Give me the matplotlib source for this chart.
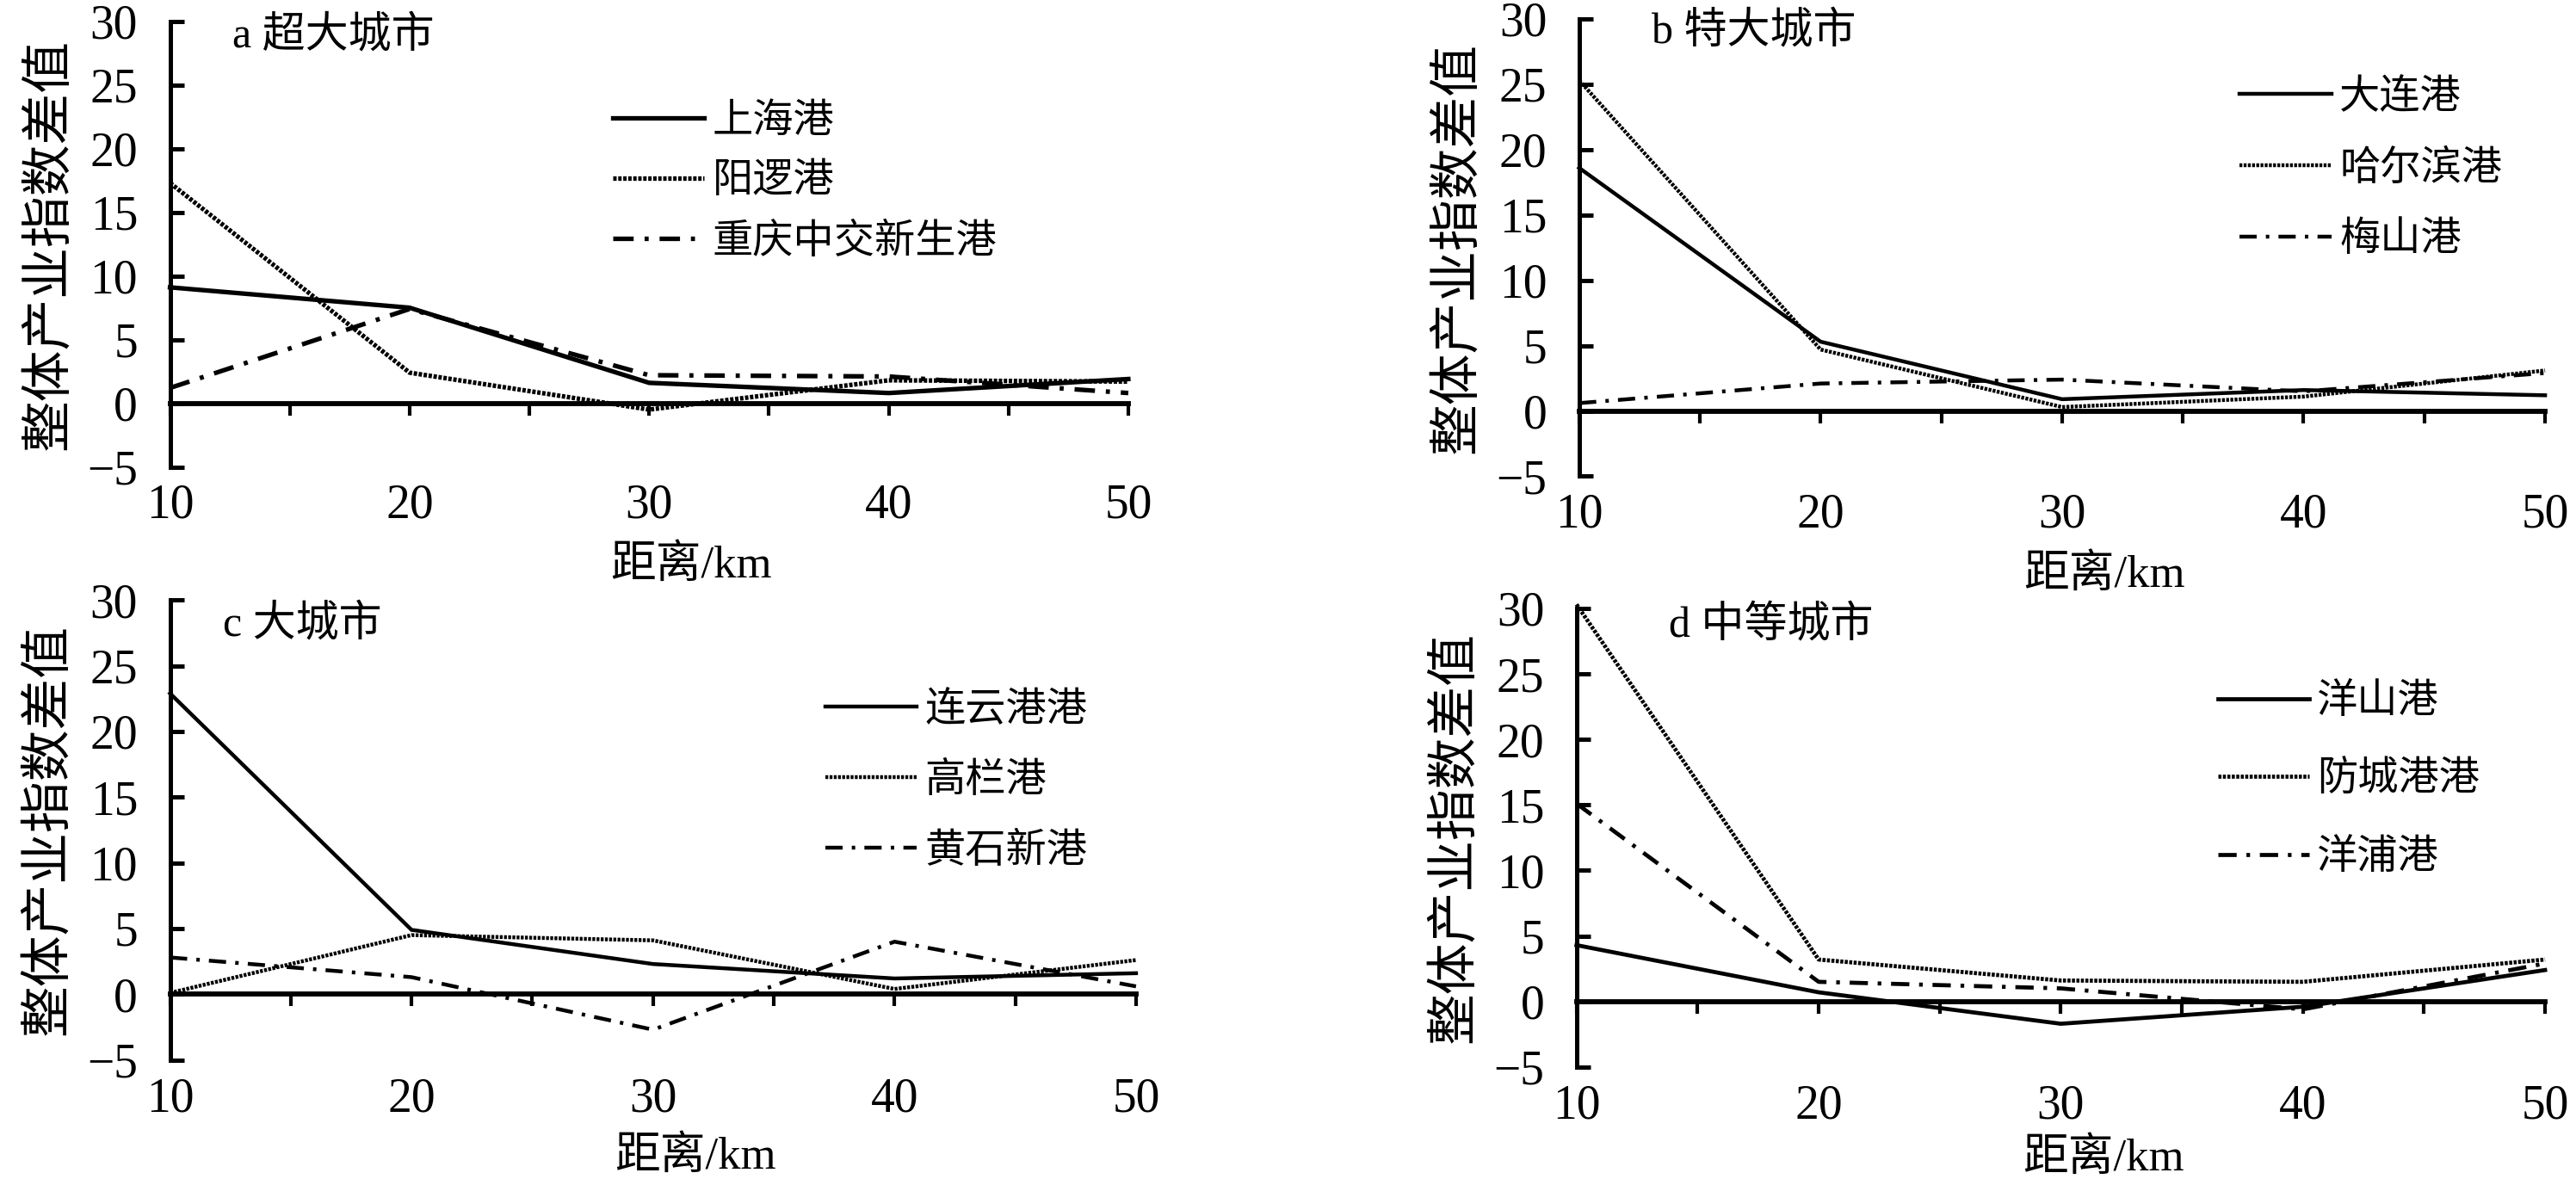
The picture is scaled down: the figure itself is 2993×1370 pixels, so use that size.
import matplotlib
matplotlib.use("Agg")
import matplotlib.pyplot as plt

# ── Fonts ────────────────────────────────────────────────────────────────────
plt.rcParams["font.family"] = ["Liberation Serif", "Noto Sans CJK SC"]
plt.rcParams["axes.unicode_minus"] = True

# ── Data ─────────────────────────────────────────────────────────────────────
distance = [10, 20, 30, 40, 50]

a_names  = ["上海港", "阳逻港", "重庆中交新生港"]
a_solid  = [9.1, 7.5, 1.6, 0.8, 1.9]
a_dotted = [17.3, 2.4, -0.5, 1.8, 1.7]
a_dashdot = [1.2, 7.4, 2.2, 2.1, 0.8]

b_names  = ["大连港", "哈尔滨港", "梅山港"]
b_solid  = [18.6, 5.3, 0.9, 1.6, 1.2]
b_dotted = [25.3, 4.7, 0.3, 1.1, 3.1]
b_dashdot = [0.6, 2.1, 2.4, 1.5, 2.9]

c_names  = ["连云港港", "高栏港", "黄石新港"]
c_solid  = [22.9, 4.9, 2.3, 1.2, 1.6]
c_dotted = [0.1, 4.5, 4.1, 0.4, 2.6]
c_dashdot = [2.8, 1.3, -2.7, 4.0, 0.6]

d_names  = ["洋山港", "防城港港", "洋浦港"]
d_solid  = [4.3, 0.7, -1.7, -0.4, 2.4]
d_dotted = [30.3, 3.2, 1.6, 1.5, 3.2]
d_dashdot = [15.1, 1.5, 1.0, -0.6, 2.9]

panel_titles = ["a 超大城市", "b 特大城市", "c 大城市", "d 中等城市"]
ylabel_text = "整体产业指数差值"
xlabel_text = "距离/km"
x_ticklabels = [10, 20, 30, 40, 50]
y_ticks = [-5, 0, 5, 10, 15, 20, 25, 30]

# ── Layout (figure fractions) ────────────────────────────────────────────────
panels = [
    dict(rect=[0.066, 0.604, 0.372, 0.378], names=a_names,
         series=(a_solid, a_dotted, a_dashdot), title_xy=(0.065, 0.965),
         leg_xy=(0.462, 0.638), leg_sp=0.56, xlab_y=-0.175, lw=3.8),
    dict(rect=[0.613, 0.596, 0.375, 0.388], names=b_names,
         series=(b_solid, b_dotted, b_dashdot), title_xy=(0.075, 0.97),
         leg_xy=(0.684, 0.671), leg_sp=0.82, xlab_y=-0.17, lw=3.2),
    dict(rect=[0.066, 0.101, 0.375, 0.390], names=c_names,
         series=(c_solid, c_dotted, c_dashdot), title_xy=(0.055, 0.945),
         leg_xy=(0.678, 0.606), leg_sp=0.8, xlab_y=-0.165, lw=3.2),
    dict(rect=[0.612, 0.095, 0.376, 0.389], names=d_names,
         series=(d_solid, d_dotted, d_dashdot), title_xy=(0.095, 0.96),
         leg_xy=(0.662, 0.625), leg_sp=0.98, xlab_y=-0.155, lw=3.4),
]

styles = [
    dict(linestyle="-"),
    dict(linestyle=(0, (0.75, 0.35))),
    dict(linestyle=(0, (4.5, 2.4, 0.9, 2.4))),
]

fig = plt.figure(figsize=(29.93, 13.70), dpi=100)

for p, title in zip(panels, panel_titles):
    ax = fig.add_axes(p["rect"])
    for vals, name, st in zip(p["series"], p["names"], styles):
        ax.plot(distance, vals, color="black", label=name, clip_on=False,
                linewidth=p["lw"], solid_joinstyle="miter", **st)

    ax.set_xlim(10, 50)
    ax.set_ylim(-5, 30)

    # spines: left axis + zero line
    for side in ("top", "right"):
        ax.spines[side].set_visible(False)
    ax.spines["left"].set_linewidth(3.6)
    ax.spines["bottom"].set_position(("data", 0))
    ax.spines["bottom"].set_linewidth(4.2)
    ax.spines["bottom"].set_zorder(1)

    ax.set_yticks(y_ticks)
    ax.tick_params(axis="y", direction="in", length=11.5, width=3.6,
                   labelsize=40, pad=27)
    ax.set_xticks(range(10, 51, 5))
    ax.tick_params(axis="x", direction="out", length=10, width=3.0,
                   labelbottom=False)

    # tick labels along the bottom of the panel
    sec = ax.secondary_xaxis("bottom")
    sec.spines["bottom"].set_visible(False)
    sec.set_xticks(x_ticklabels)
    sec.tick_params(length=0, labelsize=40, pad=14)

    ax.set_ylabel(ylabel_text, fontsize=43)
    ax.yaxis.set_label_coords(-0.1, 0.5)
    ax.set_xlabel(xlabel_text, fontsize=38)
    ax.xaxis.set_label_coords(0.544, p["xlab_y"])

    ax.text(p["title_xy"][0], p["title_xy"][1], title, transform=ax.transAxes,
            fontsize=36, va="center", ha="left")

    ax.legend(loc="center left", bbox_to_anchor=p["leg_xy"], frameon=False,
              fontsize=34, handlelength=2.25, handletextpad=0.2,
              labelspacing=p["leg_sp"], borderpad=0, borderaxespad=0)

fig.savefig("out.png", dpi=100)
